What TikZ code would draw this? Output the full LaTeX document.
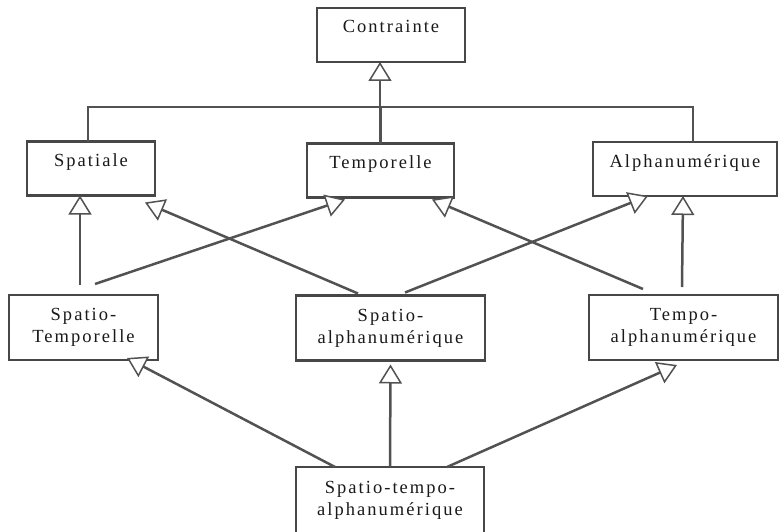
\documentclass[tikz,border=0pt]{standalone}
\usepackage{fontspec}
\setmainfont{Liberation Serif}[LetterSpace=11]
\usetikzlibrary{arrows.meta}

\tikzset{
  boxbase/.style={draw=black!72, line width=2.8pt, fill=white, outer sep=0pt,
    inner xsep=4pt, font=\fontsize{18.5}{22}\selectfont, text=black!90},
  oneline/.style={boxbase, inner ysep=0pt, text height=25pt, text depth=29pt},
  twoline/.style={boxbase, align=center, minimum height=65pt, inner ysep=0pt},
  link/.style={draw=black!68, line width=2.5pt},
  gen/.style={link, -{Triangle[open, length=19pt, width=23pt, line width=1.5pt, fill=white]}}
}

\begin{document}
\begin{tikzpicture}[x=1pt, y=-1pt]
  \useasboundingbox (0,0) rectangle (781,532);
  \clip (0,0) rectangle (781,532);

  % top class
  \node[oneline, minimum width=148pt] (contrainte) at (391,35) {Contrainte};

  % first level
  \node[oneline, minimum width=128pt] (spatiale)   at (91,168.5)  {Spatiale};
  \node[oneline, minimum width=147pt] (temporelle) at (380.5,170.5) {Temporelle};
  \node[oneline, minimum width=184pt] (alpha)      at (685,169)   {Alphanumérique};

  % second level
  \node[twoline, minimum width=149pt] (stemp)  at (83.5,327.5) {Spatio-\\Temporelle};
  \node[twoline, minimum width=189pt] (salpha) at (390.5,328)  {Spatio-\\alphanumérique};
  \node[twoline, minimum width=189pt] (talpha) at (683.5,327.5) {Tempo-\\alphanumérique};

  % bottom class
  \node[twoline, minimum width=188pt, minimum height=66pt] (sta) at (390,500)
    {Spatio-tempo-\\alphanumérique};

  % generalisation tree towards Contrainte
  \coordinate (bus) at (380,107);
  \draw[link] ([xshift=-3pt]spatiale.north) |- (bus) -| ([xshift=8pt]alpha.north);
  \draw[link] (temporelle.north) -- (temporelle.north |- bus);
  \draw[gen] (bus) -- (bus |- contrainte.south);

  % second level to first level
  \draw[gen, shorten <=10pt] ([xshift=-3.5pt]stemp.north) -- ([xshift=-3.5pt]stemp.north |- spatiale.south);
  \draw[gen] ([shift={(86,-11)}]stemp.north west) -- ([shift={(38,2)}]temporelle.south west);
  \draw[gen] ([shift={(62,-2)}]salpha.north west) -- ([shift={(-10,7)}]spatiale.south east);
  \draw[gen] ([shift={(109,-3)}]salpha.north west) -- ([shift={(55,0)}]alpha.south west);
  \draw[gen] ([shift={(54,-6)}]talpha.north west) -- ([shift={(-22,2)}]temporelle.south east);
  \draw[gen] ([shift={(93,-8)}]talpha.north west) -- ([shift={(90,0)}]alpha.south west);

  % bottom class to second level
  \draw[gen] ([xshift=-55pt]sta.north) -- ([shift={(-31,-2)}]stemp.south east);
  \draw[gen] (sta.north) -- ([yshift=-4pt]salpha.south);
  \draw[gen] ([xshift=57pt]sta.north) -- ([shift={(88,5)}]talpha.south west);
\end{tikzpicture}
\end{document}
